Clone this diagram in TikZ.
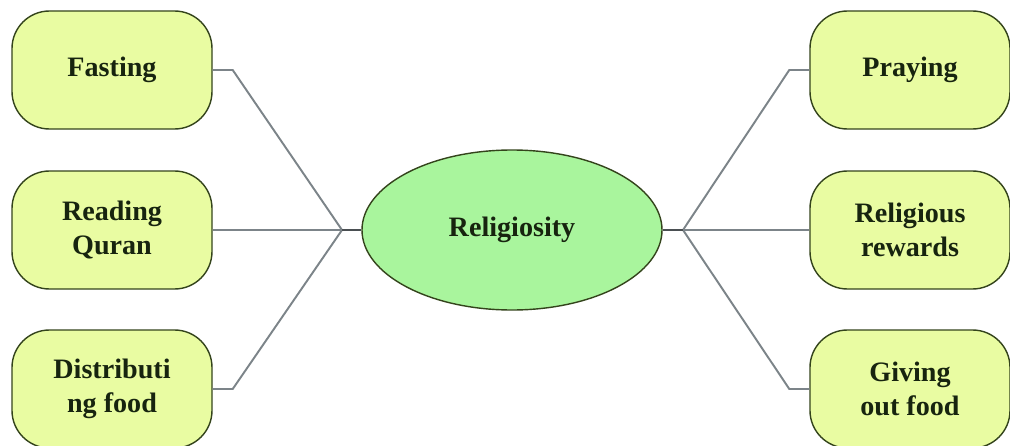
\documentclass[tikz,border=0pt]{standalone}
\usepackage{fontspec}
\setmainfont{Liberation Serif}
\usetikzlibrary{shapes.geometric,positioning}
\definecolor{kutuSari}{HTML}{E9FCA2}
\definecolor{elipsYesil}{HTML}{A9F59D}
\definecolor{kenarKoyu}{HTML}{34441C}
\definecolor{cizgiGri}{HTML}{7C8489}
\definecolor{yaziKoyu}{HTML}{17240F}
\tikzset{
  kutu/.style={draw=kenarKoyu,fill=kutuSari,line width=0.8pt,rounded corners=0.75cm,
    minimum width=4cm,minimum height=2.36cm,align=center,text=yaziKoyu,
    font=\fontsize{16}{19}\selectfont\bfseries},
  merkez/.style={ellipse,draw=kenarKoyu,fill=elipsYesil,line width=0.8pt,
    minimum width=6cm,minimum height=3.2cm,text=yaziKoyu,
    font=\fontsize{16}{19}\selectfont\bfseries},
  bag/.style={draw=cizgiGri,line width=1.1pt}
}
\begin{document}
\begin{tikzpicture}
\useasboundingbox (0,0) rectangle (20.2,-8.92);
\node[merkez] (din) at (10.24,-4.6) {Religiosity};
\node[kutu] (oruc) at (2.24,-1.4) {Fasting};
\node[kutu] (kuran) at (2.24,-4.6) {Reading\\Quran};
\node[kutu] (dagit) at (2.24,-7.78) {Distributi\\ng food};
\node[kutu] (namaz) at (18.2,-1.4) {Praying};
\node[kutu] (odul) at (18.2,-4.6) {Religious\\rewards};
\node[kutu] (yemek) at (18.2,-7.78) {Giving\\out food};
\coordinate (solDugum) at (6.84,-4.6);
\coordinate (sagDugum) at (13.66,-4.6);
% sol taraf
\draw[bag] (oruc.east) -- ++(0.4,0) -- (solDugum);
\draw[bag] (kuran.east) -- (solDugum);
\draw[bag] (dagit.east) -- ++(0.4,0) -- (solDugum);
\draw[bag,draw=cizgiGri!60!black,line width=1.4pt] (solDugum) -- (din.west);
% sag taraf
\draw[bag] (namaz.west) -- ++(-0.4,0) -- (sagDugum);
\draw[bag] (odul.west) -- (sagDugum);
\draw[bag] (yemek.west) -- ++(-0.4,0) -- (sagDugum);
\draw[bag,draw=cizgiGri!60!black,line width=1.4pt] (sagDugum) -- (din.east);
\end{tikzpicture}
\end{document}
